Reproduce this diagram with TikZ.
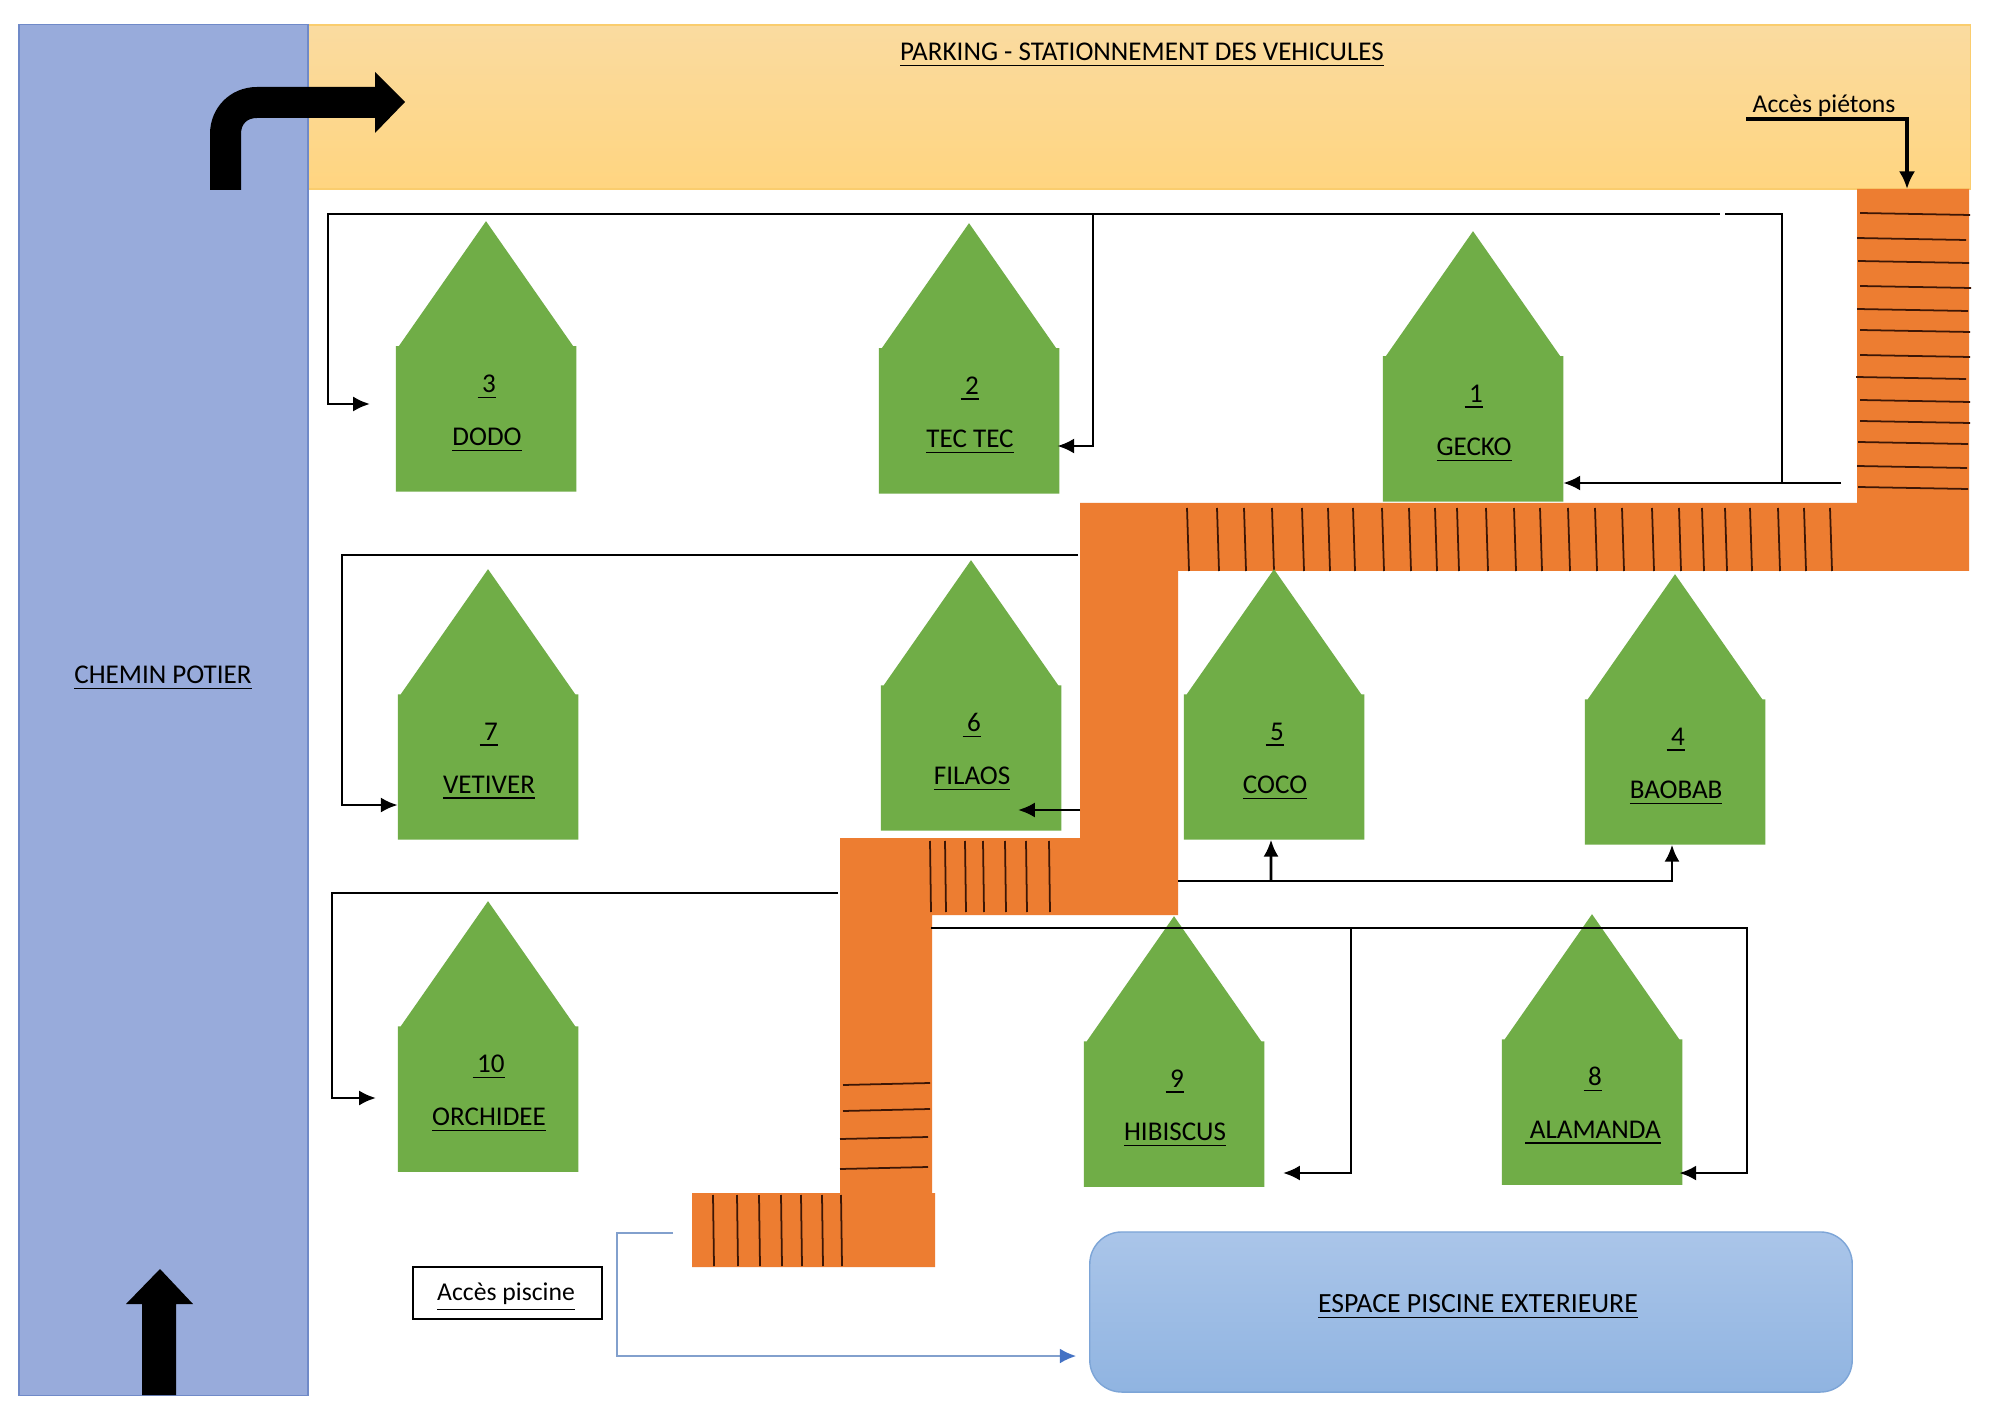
\documentclass[tikz,border=0pt]{standalone}
\usepackage{fontspec}
\setmainfont{Carlito}
\usepackage{xcolor}
\usepackage{tikz}
\usetikzlibrary{positioning, arrows.meta}
\definecolor{roadblue}{RGB}{152, 171, 219}
\definecolor{roadedge}{RGB}{112, 138, 200}
\definecolor{parktop}{RGB}{250, 219, 160}
\definecolor{parkbottom}{RGB}{255, 213, 128}
\definecolor{parkedge}{RGB}{250, 205, 110}
\definecolor{stairorange}{RGB}{237, 125, 49}
\definecolor{stairline}{RGB}{60, 22, 5}
\definecolor{housegreen}{RGB}{112, 173, 71}
\definecolor{pooltop}{RGB}{170, 197, 233}
\definecolor{poolbottom}{RGB}{144, 180, 225}
\definecolor{pooledge}{RGB}{125, 165, 215}
\definecolor{poolline}{RGB}{130, 160, 205}
\definecolor{poolhead}{RGB}{68, 114, 196}
\tikzset{
  plantext/.style={font=\fontsize{7.7}{10}\selectfont, inner sep=1pt},
  housebody/.style={minimum width=1.79cm, minimum height=1.44cm, inner sep=0},
  link/.style={black, line width=0.8pt},
  linkto/.style={link, -{Latex[length=4.8pt, width=4.3pt]}},
  stairstep/.style={stairline, line width=0.5pt}
}

\begin{document}
\begin{tikzpicture}[x=0.01cm, y=-0.01cm]
\useasboundingbox (0,0) rectangle (2000,1413);
\fill[white] (0,0) rectangle (2000,1413);

\node[draw=parkedge, line width=0.4pt, top color=parktop, bottom color=parkbottom, minimum width=16.62cm, minimum height=1.64cm, inner sep=0] (parking) at (1139,107) {};
\node[draw=roadedge, line width=0.4pt, fill=roadblue, minimum width=2.89cm, minimum height=13.70cm, inner sep=0] (road) at (163.5,710) {};
\node[plantext] (parkinglabel) at (1142,55) {\underline{PARKING - STATIONNEMENT DES VEHICULES}};
\node[plantext] (roadlabel) at (163,678) {\underline{CHEMIN POTIER}};

\fill[black] (210,190) -- (210,134) .. controls (210,108) and (230,87) .. (257,87) -- (375,87) -- (375,72) -- (405,102) -- (375,133) -- (375,118) -- (257,118) .. controls (247,118) and (241,124) .. (241,134) -- (241,190) -- cycle;
\fill[black] (142,1395) -- (142,1304) -- (126,1304) -- (160,1269) -- (193,1304) -- (176,1304) -- (176,1395) -- cycle;

\fill[stairorange] (1857,189) -- (1969,189) -- (1969,571) -- (1178,571) -- (1178,915) -- (932,915) -- (932,1193) -- (935,1193) -- (935,1267) -- (692,1267) -- (692,1193) -- (840,1193) -- (840,838) -- (1080,838) -- (1080,503) -- (1857,503) -- cycle;
\foreach \ya/\xa/\xb in {213/1860/1970, 238/1857/1966, 261/1858/1969, 286/1860/1971, 309/1857/1968, 330/1860/1970, 355/1860/1970, 377/1856/1966, 400/1860/1970, 421/1860/1970, 442/1858/1968, 466/1857/1967, 487/1858/1968}
  \draw[stairstep] (\xa,\ya) -- (\xb,\ya+2);
\foreach \xa in {1187,1217,1244,1272,1302,1328,1353,1382,1409,1435,1457,1486,1514,1540,1568,1595,1622,1652,1679,1702,1725,1750,1778,1804,1830}
  \draw[stairstep] (\xa,508) -- (\xa+2,571);
\foreach \xa in {930,945,965,983,1005,1026,1049}
  \draw[stairstep] (\xa,841) -- (\xa+1,912);
\foreach \ya/\xa/\xb in {1083/843/930, 1109/843/930, 1137/840/928, 1167/840/928}
  \draw[stairstep] (\xa,\ya+2) -- (\xb,\ya);
\foreach \xa in {713,737,759,781,801,822,841}
  \draw[stairstep] (\xa,1195) -- (\xa+1,1266);

\foreach \n/\hx/\hy/\num/\lab in {
  3/486/419/3/DODO, 2/969/421/2/TEC TEC, 1/1473/429/1/GECKO,
  7/488/767/7/VETIVER, 6/971/758/6/FILAOS, 5/1274/767/5/COCO, 4/1675/772/4/BAOBAB,
  10/488/1099/10/ORCHIDEE, 9/1174/1114/9/HIBISCUS, 8/1592/1112/8/\,ALAMANDA}{
  \node[housebody] (h\n) at (\hx,\hy) {};
  \fill[housegreen] (h\n.south west) -- (h\n.north west) -- ++(3,0) -- ([yshift=1.25cm]h\n.north) -- ([xshift=-0.03cm]h\n.north east) -- (h\n.north east) -- (h\n.south east) -- cycle;
  \node[plantext] (num\n) at ([xshift=0.2pt, yshift=0.32cm]h\n.center) {\underline{\,\num}};
  \node[plantext] (name\n) at ([xshift=0.3pt, yshift=-0.21cm]h\n.center) {\underline{\lab}};
}

\coordinate (geckostart) at (1841,483);
\coordinate (geckojoint) at (1782,483);
\coordinate (topgapa) at (1725,214);
\coordinate (topgapb) at (1720,214);
\coordinate (tecjoint) at (1093,214);
\coordinate (tecin) at ([xshift=-0.02cm, yshift=-0.25cm]h2.east);
\coordinate (dodoin) at (370,404);
\coordinate (leftturn) at (328,214);
\draw[linkto] (geckostart) -- (geckojoint) -- (h1.east |- geckojoint);
\draw[link] (geckojoint) |- (topgapa);
\draw[linkto] (topgapb) -- (leftturn) |- (dodoin);
\draw[linkto] (tecjoint) |- (tecin);

\coordinate (vetstart) at (1078,555);
\coordinate (vetturn) at (342,555);
\coordinate (vetin) at ([yshift=-0.38cm]h7.west);
\draw[linkto] (vetstart) -- (vetturn) |- (vetin);

\coordinate (filstart) at (1080,810);
\coordinate (filin) at (1018,810);
\draw[linkto] (filstart) -- (filin);

\coordinate (baostart) at (1178,881);
\coordinate (cocojoint) at (1271,881);
\draw[linkto] (baostart) -| ([xshift=-0.03cm]h4.south);
\draw[linkto] (cocojoint) -- ([xshift=-0.03cm]h5.south);

\coordinate (orchstart) at (838,893);
\coordinate (orchturn) at (332,893);
\coordinate (orchin) at (376,1098);
\draw[linkto] (orchstart) -- (orchturn) |- (orchin);

\coordinate (alastart) at (931,928);
\coordinate (alaturn) at (1747,928);
\coordinate (alain) at ([xshift=-0.03cm, yshift=-0.61cm]h8.east);
\coordinate (hibjoint) at (1351,928);
\coordinate (hibin) at (1283,1173);
\draw[linkto] (alastart) -- (alaturn) |- (alain);
\draw[linkto] (hibjoint) |- (hibin);

\node[draw=pooledge, line width=0.4pt, rounded corners=0.32cm, top color=pooltop, bottom color=poolbottom, minimum width=7.62cm, minimum height=1.60cm, inner sep=0] (pool) at (1471,1312) {};
\node[plantext, font=\fontsize{7.9}{10}\selectfont] (poollabel) at (1478,1307) {\underline{ESPACE PISCINE EXTERIEURE}};
\node[draw=black, line width=0.5pt, fill=white, minimum width=1.89cm, minimum height=0.52cm, inner sep=0] (poolaccess) at (507.5,1293) {};
\node[plantext, font=\fontsize{7.3}{10}\selectfont] (poolaccesslabel) at (506,1297) {\underline{Accès piscine}};

\coordinate (poolstart) at (673,1233);
\coordinate (poolturn) at (617,1233);
\coordinate (poolin) at ([xshift=-0.13cm, yshift=-0.44cm]pool.west);
\draw[poolline, line width=0.5pt, -{Latex[length=4.6pt, width=4.2pt, color=poolhead]}] (poolstart) -- (poolturn) |- (poolin);

\coordinate (walkstart) at (1746,119);
\coordinate (walkin) at (1907,189);
\draw[black, line width=1pt, -{Latex[length=5pt, width=4.6pt]}] (walkstart) -| (walkin);
\node[plantext, font=\fontsize{7.3}{10}\selectfont] (walklabel) at (1824,106) {Accès piétons};
\end{tikzpicture}
\end{document}
